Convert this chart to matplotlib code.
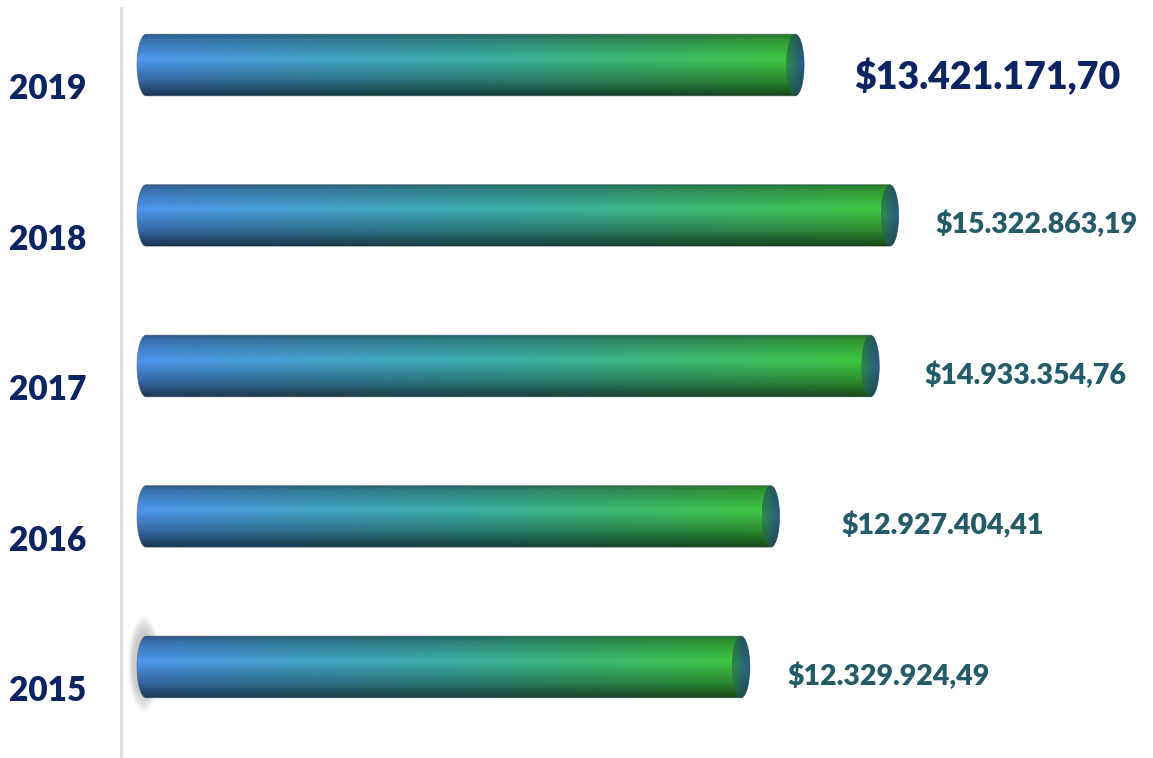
import numpy as np
import matplotlib.pyplot as plt
from matplotlib.patches import Ellipse, PathPatch
from matplotlib.path import Path
from matplotlib.colors import to_rgb

# data
years = ["2015", "2016", "2017", "2018", "2019"]
values = [12329924.49, 12927404.41, 14933354.76, 15322863.19, 13421171.70]
labels = ["$12.329.924,49", "$12.927.404,41", "$14.933.354,76",
          "$15.322.863,19", "$13.421.171,70"]
label_gap = [0.75, 1.25, 0.9, 0.75, 1.0]   # gap after bar end, millions

plt.rcParams['font.family'] = ['Lato', 'DejaVu Sans']

fig = plt.figure(figsize=(11.53, 7.58), dpi=100)
ax = fig.add_axes([0, 0, 1, 1])
ax.set_xlim(-2.757, 20.44)
ax.set_ylim(-0.605, 4.432)
ax.axis("off")

px = 1 / 49.7          # one pixel in data x units
h = 0.41               # bar height
cap_w = 18 * px        # width of the end ellipse
left_c = 0.5 * cap_w   # bulge on left end

blue = np.array(to_rgb("#4a8fe2"))
teal = np.array(to_rgb("#3aa6a0"))
green = np.array(to_rgb("#3cc03a"))


def shade(v):
    # vertical light profile, v=0 top, v=1 bottom
    pts = [0.0, 0.08, 0.4, 0.75, 1.0]
    fac = [0.62, 0.78, 1.05, 0.72, 0.38]
    return np.interp(v, pts, fac)


def body_image(ncols=300, nrows=60):
    t = np.linspace(0, 1, ncols)
    col = np.empty((ncols, 3))
    for k in range(3):
        col[:, k] = np.interp(t, [0, 0.5, 1], [blue[k], teal[k], green[k]])
    s = shade(np.linspace(0, 1, nrows))
    img = s[:, None, None] * col[None, :, :]
    return np.clip(img, 0, 1)


def cap_image(ncols=40, nrows=60):
    t = np.linspace(0, 1, ncols)
    c0 = np.array(to_rgb("#2e8a4a"))
    c1 = np.array(to_rgb("#2a5a8e"))
    col = c0[None, :] * (1 - t[:, None]) + c1[None, :] * t[:, None]
    s = np.interp(np.linspace(0, 1, nrows), [0, 0.5, 1], [0.8, 1.0, 0.7])
    return np.clip(s[:, None, None] * col[None, :, :], 0, 1)


def cylinder_path(x0, x1, yc):
    # left half-ellipse + rectangle + right half-ellipse
    n = 40
    a = np.linspace(np.pi / 2, 3 * np.pi / 2, n)
    left = np.column_stack([x0 + left_c * np.cos(a), yc + h / 2 * np.sin(a)])
    b = np.linspace(-np.pi / 2, np.pi / 2, n)
    xr = x1 - cap_w / 2
    right = np.column_stack([xr + cap_w / 2 * np.cos(b), yc + h / 2 * np.sin(b)])
    verts = np.vstack([left, right, left[:1]])
    codes = [Path.MOVETO] + [Path.LINETO] * (len(verts) - 2) + [Path.CLOSEPOLY]
    return Path(verts, codes)


# axis line
ax.plot([-16 * px, -16 * px], [-0.605, 4.38], color="#d5e0ee", lw=2, zorder=1)

body = body_image()
capimg = cap_image()

for i, (yr, v, lab) in enumerate(zip(years, values, labels)):
    m = v / 1e6
    x0 = left_c

    if i == 0:
        # soft shadow at the left end of the first bar
        for k in range(8):
            ax.add_patch(Ellipse((x0 - 2 * px, i + 0.02), 2 * left_c + 14 * px - k * 1.5 * px,
                                 h * 1.55 - k * 0.03, color="#808080",
                                 alpha=0.06, lw=0, zorder=1))

    path = cylinder_path(x0, m, i)
    im = ax.imshow(body, extent=(0, m, i - h / 2, i + h / 2),
                   aspect="auto", zorder=2, interpolation="bilinear")
    im.set_clip_path(PathPatch(path, transform=ax.transData))
    ax.add_patch(PathPatch(path, fc="none", ec="#4a5a6a", lw=0.6, alpha=0.6, zorder=3))

    # end cap face
    xc = m - cap_w / 2
    cap = Ellipse((xc, i), cap_w, h, transform=ax.transData)
    ci = ax.imshow(capimg, extent=(xc - cap_w / 2, m, i - h / 2, i + h / 2),
                   aspect="auto", zorder=4, interpolation="bilinear")
    ci.set_clip_path(cap)

    # labels
    ax.text(-89 * px, i - 0.16, yr, ha="center", va="center",
            fontsize=24, fontweight="heavy", color="#0c2461")
    if i == len(years) - 1:
        ax.text(m + label_gap[i], i - 0.075, lab, ha="left", va="center",
                fontsize=27, fontweight="heavy", color="#0c2461")
    else:
        ax.text(m + label_gap[i], i - 0.06, lab, ha="left", va="center",
                fontsize=20.5, fontweight="heavy", color="#245b68")

fig.savefig("out.png", dpi=100)
